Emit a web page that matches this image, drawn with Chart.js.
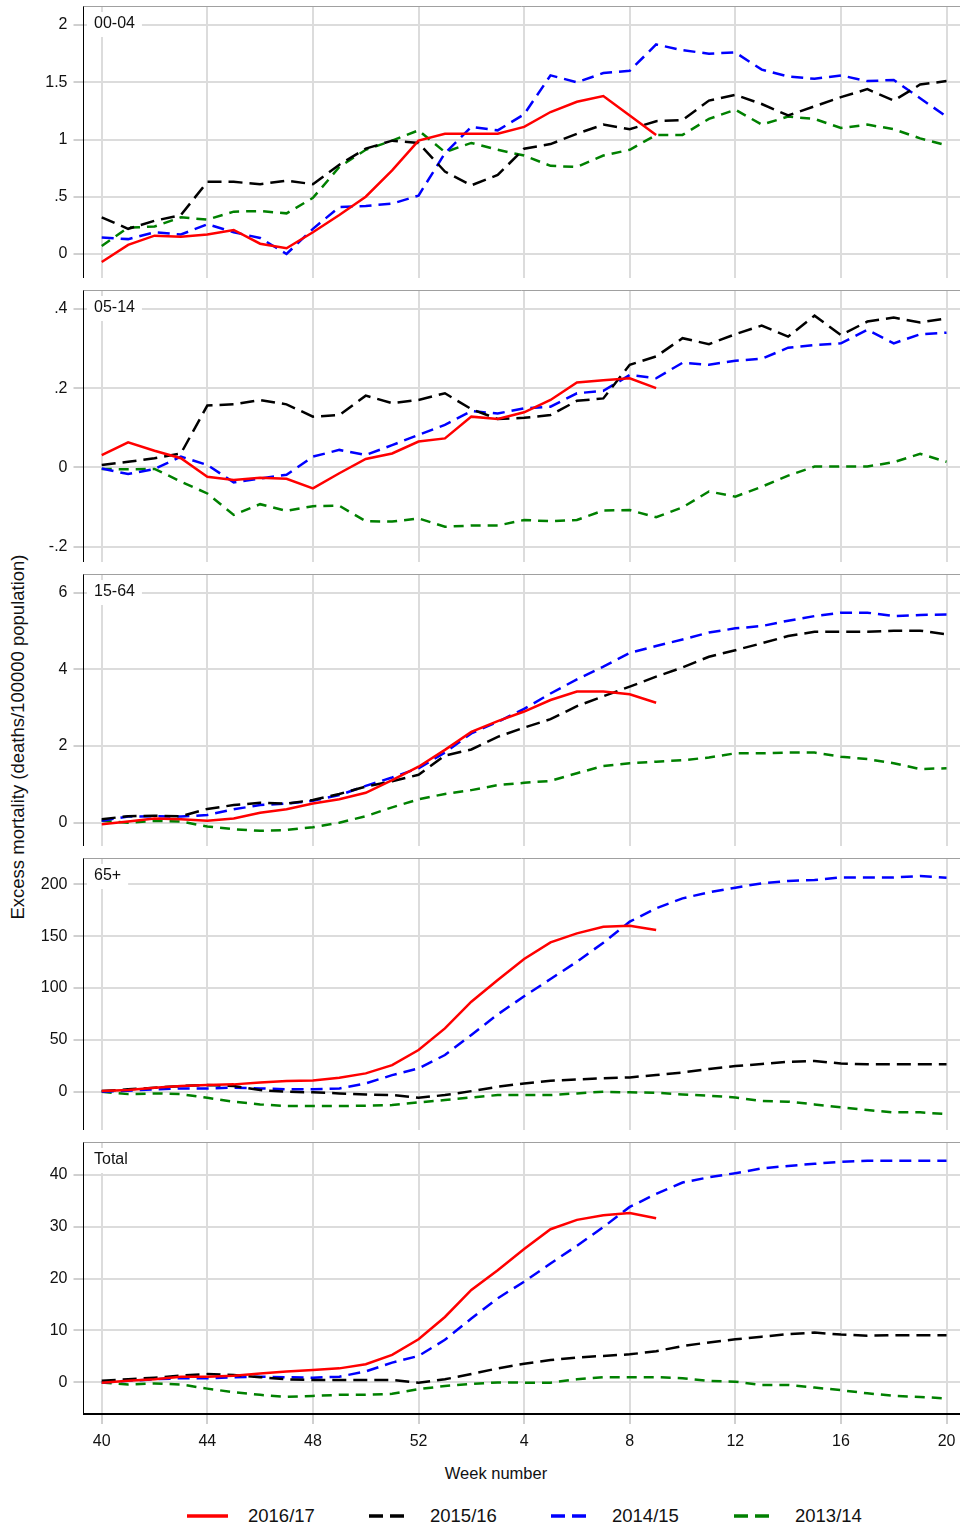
<!DOCTYPE html>
<html>
<head>
<meta charset="utf-8">
<script src="https://cdn.jsdelivr.net/npm/chart.js@4.4.1/dist/chart.umd.min.js"></script>
<style>
  html, body { margin: 0; padding: 0; background: #fff; }
  #page { position: relative; width: 960px; height: 1528px; overflow: hidden;
          font-family: "Liberation Sans", Arial, sans-serif; color: #111; }
  .panel { position: absolute; left: 0; }
  #ytitle { position: absolute; left: 18px; top: 737px; white-space: nowrap; font-size: 18.5px;
            transform: translate(-50%, -50%) rotate(-90deg); }
  #xtitle { position: absolute; left: 496px; top: 1473px; white-space: nowrap; font-size: 16.5px;
            transform: translate(-50%, -50%); }
  .leg { position: absolute; top: 1516px; transform: translateY(-50%); display: flex;
         align-items: center; font-size: 18.5px; white-space: nowrap; }
  .leg svg { margin-right: 20px; display: block; }
</style>
</head>
<body>
<div id="page">
  <div id="ytitle">Excess mortality (deaths/100000 population)</div>
  <div id="xtitle">Week number</div>
</div>
<script>
// week axis, season 40 .. 20
const weeks = [40, 41, 42, 43, 44, 45, 46, 47, 48, 49, 50, 51, 52,
               1, 2, 3, 4, 5, 6, 7, 8, 9, 10, 11, 12, 13, 14, 15, 16, 17, 18, 19, 20];
const xTickWeeks = [40, 44, 48, 52, 4, 8, 12, 16, 20];
const seasons = ['2016/17', '2015/16', '2014/15', '2013/14'];

// 00-04
const a0004_1617 = [-0.07, 0.08, 0.16, 0.15, 0.17, 0.21, 0.09, 0.05, 0.19, 0.34, 0.50, 0.73, 0.99, 1.05, 1.05, 1.05, 1.11, 1.24, 1.33, 1.38, 1.21, 1.04];
const a0004_1516 = [0.32, 0.22, 0.29, 0.34, 0.63, 0.63, 0.61, 0.64, 0.61, 0.78, 0.92, 0.99, 0.97, 0.72, 0.60, 0.69, 0.92, 0.96, 1.05, 1.13, 1.09, 1.16, 1.17, 1.34, 1.39, 1.31, 1.21, 1.29, 1.37, 1.44, 1.34, 1.48, 1.51];
const a0004_1415 = [0.145, 0.13, 0.19, 0.17, 0.26, 0.19, 0.14, 0.0, 0.22, 0.41, 0.42, 0.44, 0.51, 0.88, 1.11, 1.08, 1.22, 1.56, 1.50, 1.58, 1.60, 1.83, 1.78, 1.75, 1.76, 1.61, 1.55, 1.53, 1.56, 1.51, 1.52, 1.36, 1.20];
const a0004_1314 = [0.07, 0.23, 0.24, 0.32, 0.30, 0.37, 0.375, 0.355, 0.49, 0.76, 0.91, 0.99, 1.08, 0.89, 0.97, 0.91, 0.86, 0.77, 0.76, 0.86, 0.91, 1.04, 1.04, 1.18, 1.26, 1.13, 1.20, 1.18, 1.10, 1.13, 1.09, 1.01, 0.95];

// 05-14
const a0514_1617 = [0.031, 0.063, 0.042, 0.023, -0.024, -0.032, -0.026, -0.029, -0.053, -0.015, 0.021, 0.035, 0.065, 0.073, 0.128, 0.122, 0.139, 0.17, 0.214, 0.22, 0.225, 0.20];
const a0514_1516 = [0.006, 0.014, 0.023, 0.035, 0.156, 0.159, 0.170, 0.159, 0.128, 0.132, 0.181, 0.162, 0.170, 0.187, 0.147, 0.122, 0.125, 0.132, 0.168, 0.174, 0.259, 0.28, 0.326, 0.311, 0.336, 0.358, 0.33, 0.383, 0.334, 0.368, 0.378, 0.366, 0.376];
const a0514_1415 = [-0.003, -0.017, -0.004, 0.027, 0.006, -0.038, -0.028, -0.019, 0.027, 0.044, 0.031, 0.056, 0.082, 0.107, 0.142, 0.136, 0.149, 0.153, 0.187, 0.193, 0.233, 0.225, 0.264, 0.259, 0.269, 0.274, 0.302, 0.309, 0.313, 0.347, 0.313, 0.336, 0.34];
const a0514_1314 = [-0.004, -0.005, -0.004, -0.036, -0.066, -0.12, -0.093, -0.11, -0.098, -0.097, -0.136, -0.137, -0.129, -0.15, -0.147, -0.147, -0.133, -0.136, -0.133, -0.109, -0.108, -0.126, -0.101, -0.061, -0.074, -0.049, -0.021, 0.002, 0.002, 0.002, 0.013, 0.034, 0.014];

// 15-64
const a1564_1617 = [-0.04, 0.03, 0.11, 0.09, 0.05, 0.11, 0.26, 0.35, 0.50, 0.61, 0.78, 1.11, 1.46, 1.90, 2.37, 2.65, 2.90, 3.20, 3.42, 3.42, 3.35, 3.13];
const a1564_1516 = [0.09, 0.17, 0.18, 0.17, 0.36, 0.46, 0.52, 0.50, 0.59, 0.75, 0.94, 1.08, 1.25, 1.75, 1.91, 2.24, 2.48, 2.70, 3.04, 3.30, 3.55, 3.81, 4.05, 4.33, 4.50, 4.68, 4.87, 4.98, 4.98, 4.98, 5.01, 5.01, 4.91];
const a1564_1415 = [0.05, 0.16, 0.17, 0.16, 0.20, 0.35, 0.46, 0.50, 0.57, 0.72, 0.96, 1.18, 1.42, 1.83, 2.33, 2.63, 2.97, 3.37, 3.74, 4.07, 4.43, 4.61, 4.78, 4.96, 5.07, 5.13, 5.27, 5.39, 5.48, 5.48, 5.39, 5.42, 5.43];
const a1564_1314 = [0.05, 0.0, 0.05, 0.03, -0.10, -0.17, -0.21, -0.19, -0.12, 0.0, 0.17, 0.40, 0.61, 0.75, 0.85, 0.98, 1.04, 1.09, 1.29, 1.48, 1.55, 1.59, 1.63, 1.70, 1.81, 1.81, 1.83, 1.83, 1.72, 1.66, 1.55, 1.40, 1.42];

// 65+
const a65_1617 = [0.6, 1.6, 3.9, 5.5, 6.4, 7.1, 9.0, 10.3, 10.9, 13.5, 17.7, 25.7, 40.2, 61.1, 86.8, 107.7, 128, 144, 152.7, 159.1, 160, 156];
const a65_1516 = [0.6, 2.3, 3.9, 5.5, 6.4, 5.5, 1.6, 0, -0.6, -1.6, -2.6, -3.2, -5.8, -3.2, 0.6, 4.8, 8.0, 10.6, 11.9, 12.9, 13.8, 16.1, 18.6, 21.9, 24.8, 26.7, 28.9, 29.6, 27.3, 26.4, 26.4, 26.4, 26.4];
const a65_1415 = [0, 1, 2.3, 3.2, 3.2, 3.9, 3.2, 2.3, 2.3, 3.2, 8, 16, 22.5, 35.4, 54.7, 74.6, 92, 108.7, 125.4, 143.7, 164, 176.8, 186.5, 192.3, 196.8, 201, 203.2, 204.2, 206.7, 206.7, 206.7, 208, 206.4];
const a65_1314 = [0, -2.3, -1.6, -2.3, -5.8, -9.6, -12.2, -13.8, -13.8, -13.8, -13.5, -12.9, -10.3, -8.0, -5.5, -3.2, -3.2, -3.2, -1.6, 0, -0.6, -1, -2.6, -3.9, -5.5, -9, -9.6, -12.2, -15.1, -17.7, -19.9, -19.9, -21.5];

// Total
const aTot_1617 = [-0.06, 0.3, 0.6, 1.1, 1.1, 1.3, 1.7, 2.1, 2.4, 2.7, 3.5, 5.3, 8.3, 12.6, 17.8, 21.6, 25.7, 29.5, 31.3, 32.2, 32.6, 31.6];
const aTot_1516 = [0.3, 0.6, 0.9, 1.3, 1.6, 1.4, 1.0, 0.6, 0.45, 0.45, 0.45, 0.45, -0.06, 0.6, 1.6, 2.7, 3.6, 4.3, 4.8, 5.1, 5.4, 6.0, 7.0, 7.7, 8.3, 8.8, 9.3, 9.6, 9.2, 9.0, 9.1, 9.1, 9.1];
const aTot_1415 = [0, 0.3, 0.6, 0.8, 0.8, 1.0, 1.1, 1.0, 0.9, 1.1, 2.1, 3.8, 5.1, 8.2, 12.3, 16.2, 19.4, 22.9, 26.3, 29.9, 33.8, 36.3, 38.5, 39.5, 40.3, 41.2, 41.7, 42.1, 42.5, 42.7, 42.7, 42.7, 42.7];
const aTot_1314 = [0, -0.4, -0.2, -0.4, -1.2, -1.9, -2.4, -2.8, -2.6, -2.4, -2.4, -2.2, -1.3, -0.7, -0.3, 0, -0.06, -0.06, 0.6, 1.0, 1.0, 1.0, 0.8, 0.3, 0.13, -0.5, -0.5, -1.0, -1.5, -2.1, -2.6, -2.8, -3.1];

const yTicks0004 = [0, 0.5, 1, 1.5, 2];
const yTicks0514 = [-0.2, 0, 0.2, 0.4];
const yTicks1564 = [0, 2, 4, 6];
const yTicks65 = [0, 50, 100, 150, 200];
const yTicksTot = [0, 10, 20, 30, 40];

// looks
const FONT = '"Liberation Sans", Arial, sans-serif';
const seasonColor = ['#ff0000', '#000000', '#0000ff', '#008000'];
const seasonDash = [[], [14, 7], [12, 7], [10, 7]];
const GRID = '#dcdcdc';

const panels = [
  { name: '00-04', series: [a0004_1617, a0004_1516, a0004_1415, a0004_1314], ticks: yTicks0004, min: -0.2096, max: 2.166, top: 6 },
  { name: '05-14', series: [a0514_1617, a0514_1516, a0514_1415, a0514_1314], ticks: yTicks0514, min: -0.239, max: 0.4477, top: 290 },
  { name: '15-64', series: [a1564_1617, a1564_1516, a1564_1415, a1564_1314], ticks: yTicks1564, min: -0.608, max: 6.488, top: 574 },
  { name: '65+', series: [a65_1617, a65_1516, a65_1415, a65_1314], ticks: yTicks65, min: -36.9, max: 225.4, top: 858 },
  { name: 'Total', series: [aTot_1617, aTot_1516, aTot_1415, aTot_1314], ticks: yTicksTot, min: -6.09, max: 46.3, top: 1142 }
];
const PANEL_H = 272;
const xTickIdx = xTickWeeks.map(w => weeks.indexOf(w));

function fmtY(v) {
  const s = String(Math.round(v * 100) / 100);
  return s.replace(/^(-?)0\./, '$1.');
}

// white box with the age group name, and the grey top edge of the panel
const panelFrame = {
  id: 'panelFrame',
  beforeDatasetsDraw(chart, args, opts) {
    const { ctx, chartArea: a } = chart;
    ctx.save();
    ctx.font = '16px ' + FONT;
    const w = ctx.measureText(opts.text).width;
    ctx.fillStyle = '#fff';
    ctx.fillRect(a.left + 3.5, a.top + 6, w + 14, 25);
    ctx.fillStyle = '#111';
    ctx.textBaseline = 'middle';
    ctx.fillText(opts.text, a.left + 10.5, a.top + 18);
    ctx.restore();
  },
  afterDraw(chart) {
    const { ctx, chartArea: a } = chart;
    ctx.save();
    ctx.strokeStyle = '#a0a0a0';
    ctx.lineWidth = 1;
    ctx.beginPath();
    ctx.moveTo(a.left, a.top + 0.5);
    ctx.lineTo(a.right, a.top + 0.5);
    ctx.stroke();
    ctx.restore();
  }
};

const page = document.getElementById('page');

panels.forEach((p, n) => {
  const last = n === panels.length - 1;
  const xAxisH = last ? 40 : 0;
  const wrap = document.createElement('div');
  wrap.className = 'panel';
  wrap.style.top = p.top + 'px';
  const cv = document.createElement('canvas');
  cv.width = 960;
  cv.height = PANEL_H + xAxisH;
  wrap.appendChild(cv);
  page.appendChild(wrap);

  new Chart(cv.getContext('2d'), {
    type: 'line',
    data: {
      datasets: seasons.map((s, k) => ({
        label: s,
        data: p.series[k].map((v, i) => ({ x: i, y: v })),
        borderColor: seasonColor[k],
        borderWidth: 2.5,
        borderDash: seasonDash[k],
        pointRadius: 0,
        tension: 0,
        fill: false
      }))
    },
    options: {
      responsive: false,
      animation: false,
      events: [],
      layout: { padding: 0 },
      scales: {
        x: {
          type: 'linear',
          min: -0.69,
          max: 32.51,
          afterBuildTicks: s => { s.ticks = xTickIdx.map(v => ({ value: v })); },
          afterFit: s => { s.height = xAxisH; s.paddingLeft = 0; s.paddingRight = 0; },
          ticks: {
            display: last,
            autoSkip: false,
            maxRotation: 0,
            padding: 8,
            color: '#111',
            font: { family: FONT, size: 16 },
            callback: v => weeks[v]
          },
          grid: { color: GRID, lineWidth: 2, drawTicks: last, tickLength: 10, tickColor: '#a0a0a0', tickWidth: 1 },
          border: { color: last ? '#000' : '#8c8c8c', width: last ? 2 : 1 }
        },
        y: {
          min: p.min,
          max: p.max,
          afterBuildTicks: s => { s.ticks = p.ticks.map(v => ({ value: v })); },
          afterFit: s => { s.width = 83.5; s.paddingTop = 0; s.paddingBottom = 0; },
          ticks: {
            padding: 6,
            color: '#111',
            font: { family: FONT, size: 16 },
            callback: v => fmtY(v)
          },
          grid: { color: GRID, lineWidth: 2, tickLength: 10, tickColor: '#a0a0a0', tickWidth: 1 },
          border: { color: '#000', width: 1 }
        }
      },
      plugins: {
        legend: { display: false },
        tooltip: { enabled: false },
        panelFrame: { text: p.name }
      }
    },
    plugins: [panelFrame]
  });
});

// legend row under the chart
const legLeft = [187, 369, 551, 734];
seasons.forEach((s, k) => {
  const item = document.createElement('div');
  item.className = 'leg';
  item.style.left = legLeft[k] + 'px';
  const dash = k === 0 ? '' : ' stroke-dasharray="14 7"';
  item.innerHTML = '<svg width="41" height="6"><line x1="0" y1="3" x2="41" y2="3" stroke="' +
    seasonColor[k] + '" stroke-width="3.5"' + dash + '/></svg><span>' + s + '</span>';
  page.appendChild(item);
});
</script>
</body>
</html>
